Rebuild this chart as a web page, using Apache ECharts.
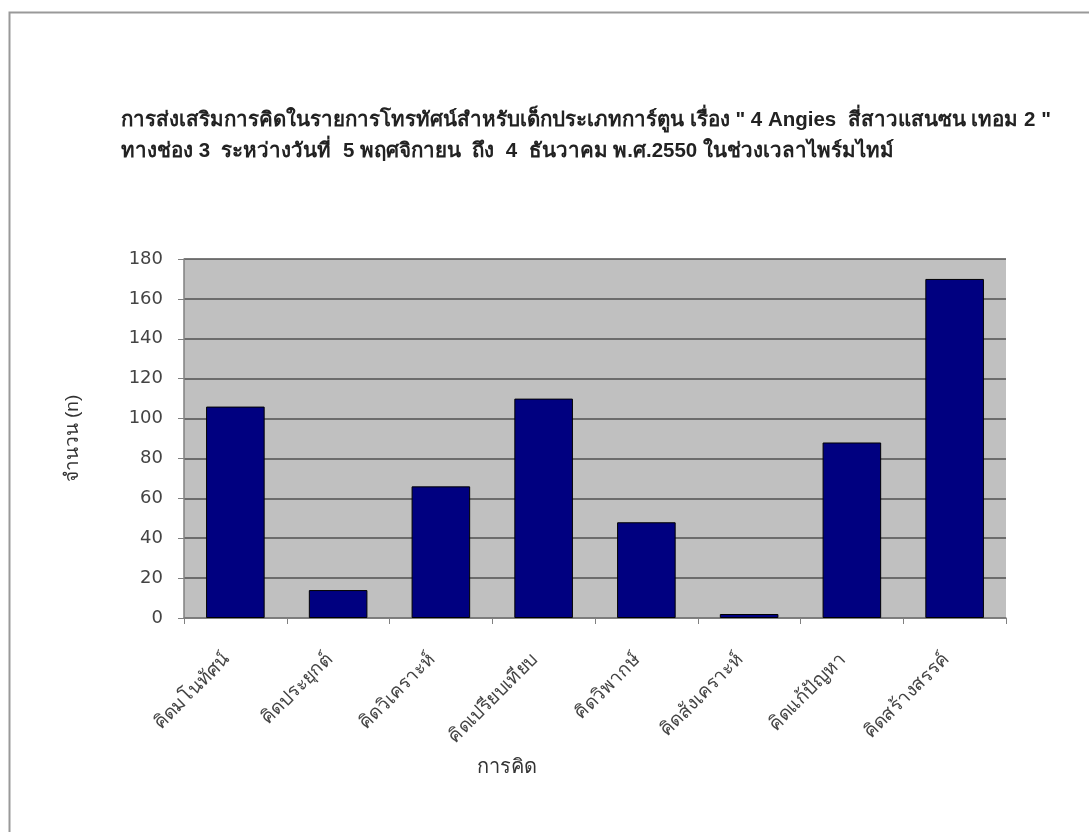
<!DOCTYPE html>
<html><head><meta charset="utf-8">
<script src="https://cdn.jsdelivr.net/npm/echarts@6/dist/echarts.min.js"></script>
<style>html,body{margin:0;padding:0;background:#fff;}#c{width:1089px;height:832px;}</style>
</head><body><div id="c"></div>
<script>
const titleLines = [
  'การส่งเสริมการคิดในรายการโทรทัศน์สำหรับเด็กประเภทการ์ตูน เรื่อง " 4 Angies  สี่สาวแสนซน เทอม 2 "',
  'ทางช่อง 3  ระหว่างวันที่  5 พฤศจิกายน  ถึง  4  ธันวาคม พ.ศ.2550 ในช่วงเวลาไพร์มไทม์'
];
const categories = ['คิดมโนทัศน์','คิดประยุกต์','คิดวิเคราะห์','คิดเปรียบเทียบ','คิดวิพากษ์','คิดสังเคราะห์','คิดแก้ปัญหา','คิดสร้างสรรค์'];
const values = [106, 14, 66, 110, 48, 2, 88, 170];
const yTicks = {min: 0, max: 180, interval: 20};
const xName = 'การคิด';
const yName = 'จำนวน (n)';

const chart = echarts.init(document.getElementById('c'));
chart.setOption({
  backgroundColor: '#fff',
  animation: false,
  title: {
    text: titleLines.join('\n'),
    left: 116, top: 100,
    textStyle: {fontSize: 20.5, fontWeight: 'bold', color: '#222', lineHeight: 31, fontFamily: 'sans-serif'}
  },
  graphic: [{
    type: 'rect', shape: {x: 9.5, y: 12.5, width: 1200, height: 1000},
    style: {fill: 'none', stroke: '#999', lineWidth: 2}, silent: true
  }, {
    type: 'text', left: 477, top: 757,
    style: {text: xName, fontSize: 20, fill: '#333'}, silent: true
  }],
  grid: {left: 184, top: 259, width: 822, height: 359, backgroundColor: '#c0c0c0', show: true, borderWidth: 0},
  xAxis: {
    type: 'category', data: categories,
    axisLine: {lineStyle: {color: '#808080', width: 1.5}},
    axisTick: {show: true, alignWithLabel: false, length: 6, lineStyle: {color: '#808080'}},
    axisLabel: {rotate: 45, fontSize: 19, color: '#444', margin: 30, interval: 0, padding: [0, 12, 0, 0]}
  },
  yAxis: {
    type: 'value', min: yTicks.min, max: yTicks.max, interval: yTicks.interval,
    name: yName, nameLocation: 'middle', nameGap: 102, nameRotate: 90,
    nameTextStyle: {fontSize: 19, color: '#333'},
    axisLine: {show: true, lineStyle: {color: '#808080', width: 1.5}},
    axisTick: {show: true, length: 6, lineStyle: {color: '#808080'}},
    axisLabel: {fontSize: 18, color: '#444', margin: 21, fontFamily: 'DejaVu Sans'},
    splitLine: {show: true, lineStyle: {color: '#505050', width: 1.5}}
  },
  series: [{
    type: 'bar', data: values, barCategoryGap: '43%',
    itemStyle: {color: '#000080', borderColor: '#000', borderWidth: 1}
  }]
});
</script></body></html>
